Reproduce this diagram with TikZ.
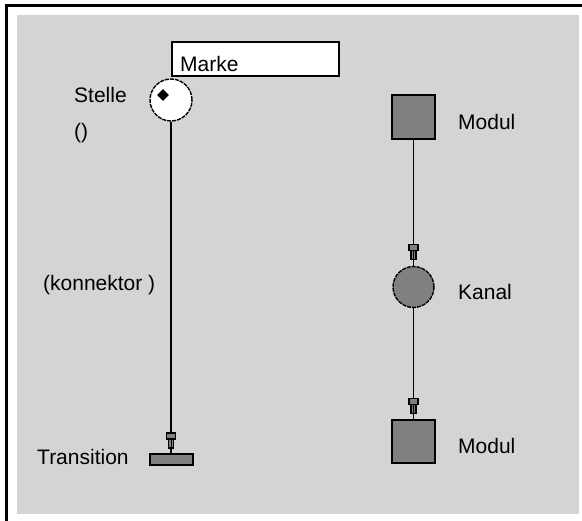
\documentclass[tikz,border=0pt]{standalone}
\usepackage{fontspec}
\setmainfont{Liberation Sans}
\usetikzlibrary{shapes.geometric}
\definecolor{bggray}{RGB}{212,212,212}
\definecolor{modgray}{RGB}{128,128,128}
\begin{document}
\begin{tikzpicture}[x=1pt,y=-1pt,
  lbl/.style={anchor=base west,inner sep=0pt,font=\fontsize{21}{24}\selectfont},
  place/.style={circle,draw,line width=1.4pt,dash pattern=on 4pt off 1pt,minimum size=42pt,inner sep=0pt},
  modbox/.style={rectangle,draw,line width=1.6pt,fill=modgray,minimum width=43pt,minimum height=44pt,inner sep=0pt},
  conn/.style={line width=1.6pt},
  tipmark/.pic={
    \draw[line width=1.2pt,fill=modgray] (-4.5,-21) rectangle (4.5,-15);
    \draw[line width=1.2pt,fill=modgray] (-2.5,-15) rectangle (2.5,-6);
    \draw[line width=0.9pt] (0,-15) -- (0,-6);
  }]
\useasboundingbox (0,0) rectangle (582,521);
\fill[white] (0,0) rectangle (582,521);
\fill[bggray] (17,15) rectangle (579,514);
\draw[line width=2.8pt] (6.2,521) -- (6.2,5.2) -- (582,5.2);

% left column
\node[place,fill=white] (stelle) at (171,100) {};
\node[diamond,fill=black,inner sep=0pt,minimum size=12pt] (token) at (163,95) {};
\node[draw,fill=white,line width=1.5pt,minimum width=167pt,minimum height=34pt,inner sep=0pt] (markebox) at (255.5,59) {};
\node[lbl] (marke) at (180,72) {Marke};
\node[lbl] (stellelbl) at (74,103) {Stelle};
\node[lbl] (paren) at (74,139) {()};
\node[lbl] (konn) at (43,291) {(konnektor )};
\node[draw,fill=modgray,line width=1.5pt,minimum width=43pt,minimum height=11pt,inner sep=0pt] (trans) at (171.5,459.5) {};
\node[lbl] (translbl) at (37,465) {Transition};
\draw[conn] (stelle.south) -- (stelle.south |- trans.north);
\pic at (171,454) {tipmark};

% right column
\node[modbox] (mod1) at (413.5,117) {};
\node[lbl] (mod1lbl) at (458,130) {Modul};
\node[place,fill=modgray,minimum size=41pt] (kanal) at (413.5,287) {};
\node[lbl] (kanallbl) at (458,300) {Kanal};
\node[modbox,minimum height=43pt] (mod2) at (413.5,441.5) {};
\node[lbl] (mod2lbl) at (458,454) {Modul};
\draw[conn] (mod1.south) -- (kanal.north);
\draw[conn] (kanal.south) -- (mod2.north);
\pic at (kanal.north) {tipmark};
\pic at (mod2.north) {tipmark};
\end{tikzpicture}
\end{document}
